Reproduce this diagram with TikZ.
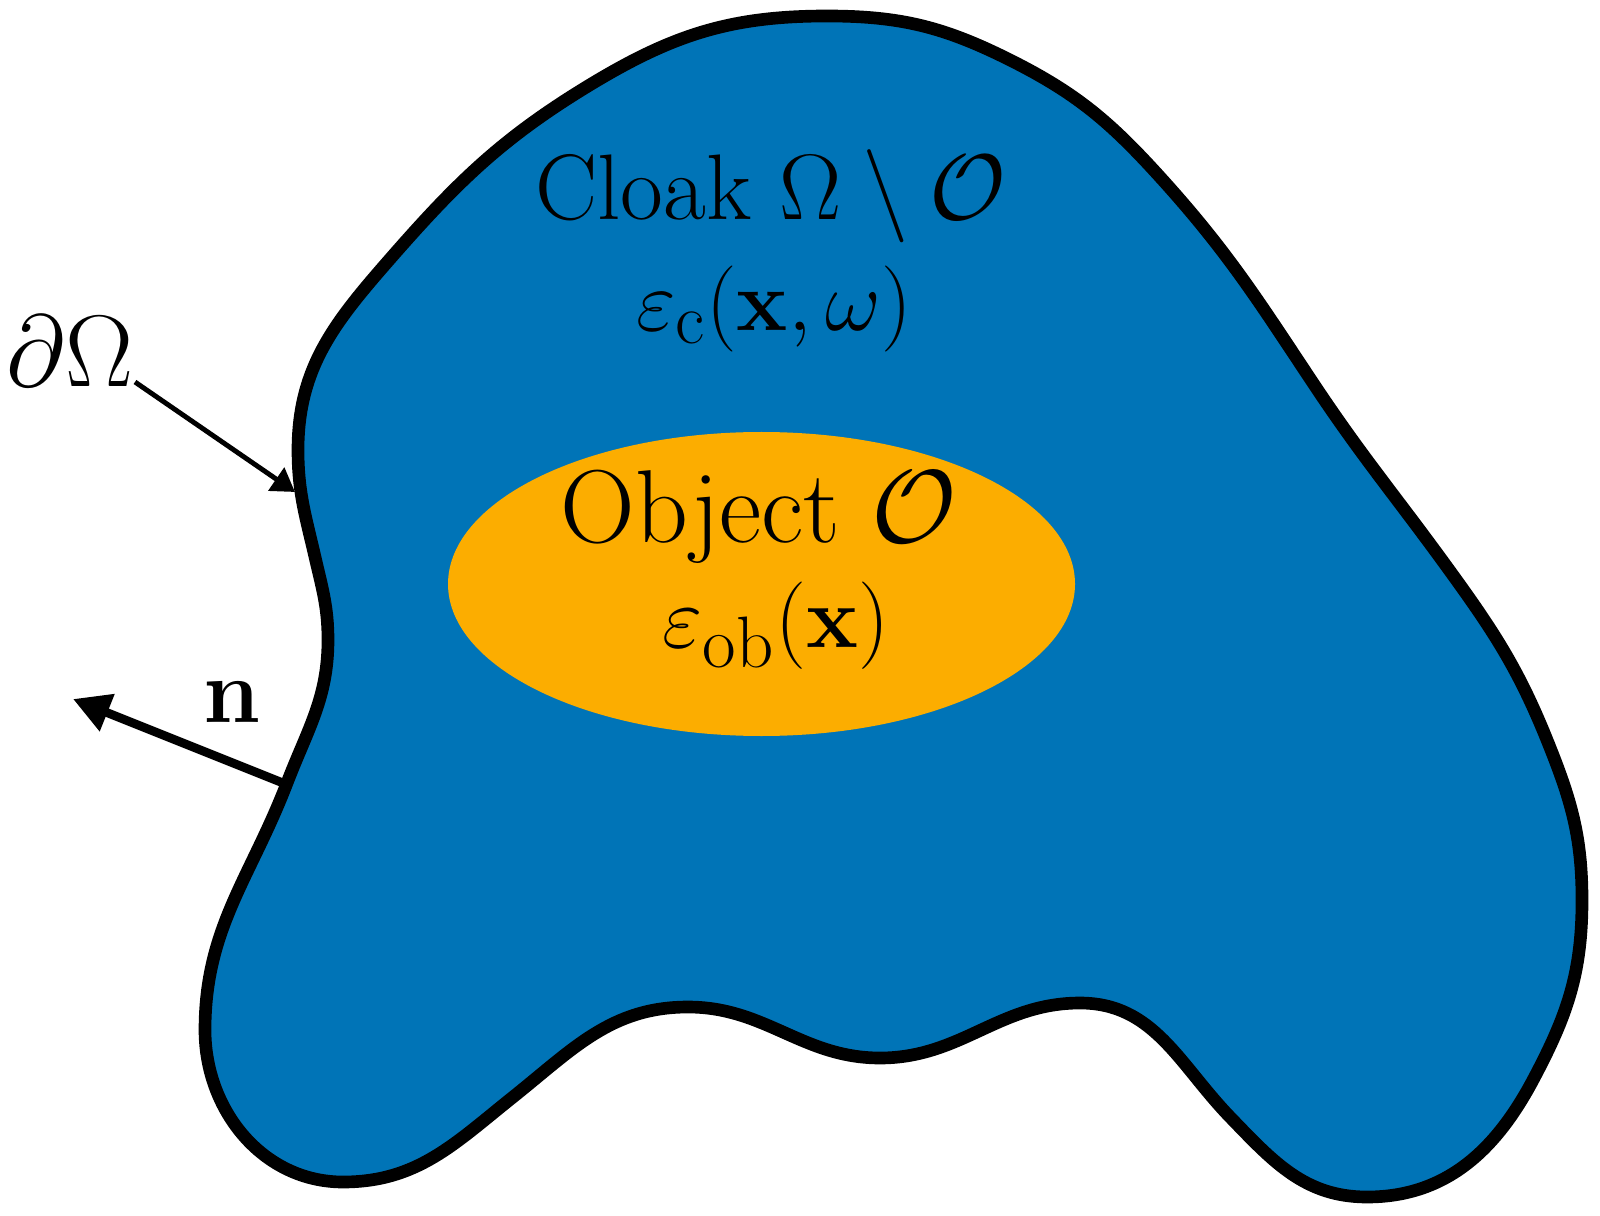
\documentclass[tikz,border=0pt]{standalone}
\usepackage{amsmath}
\usetikzlibrary{arrows.meta,shapes.geometric}
\definecolor{cloakblue}{HTML}{0074B7}
\definecolor{objorange}{HTML}{FCAD00}
\tikzset{
  region/.style={fill=cloakblue, draw=black, line width=3.6pt, line join=round},
  objshape/.style={ellipse, fill=objorange, draw=none, inner sep=0pt,
    minimum width=6.27cm, minimum height=3.04cm},
  lab/.style={anchor=base, inner sep=0pt, text=black, font=\Huge},
  thinarrow/.style={line width=1.4pt, -{Triangle[length=6.5pt, width=7.8pt]}},
  thickarrow/.style={line width=2.5pt, -{Triangle[length=10.5pt, width=10.8pt]}}
}
\begin{document}
\begin{tikzpicture}[x=1cm,y=1cm]
\useasboundingbox (0,0) rectangle (16,-12.16);
% outer domain
\draw[region] (2.98,-4.50)
  to[out=90, in=229] (3.83,-2.67)
  to[out=49, in=211] (5.93,-0.83)
  to[out=31, in=180] (8.27,-0.16)
  to[out=0, in=153.4] (10.10,-0.60)
  to[out=-26.6, in=132.2] (11.60,-1.77)
  to[out=-47.8, in=123.6] (13.13,-3.83)
  to[out=-56.4, in=126] (14.47,-5.67)
  to[out=-54, in=112] (15.47,-7.40)
  to[out=-68, in=90] (15.82,-9.00)
  to[out=-90, in=62] (15.33,-10.80)
  to[out=-118, in=0] (13.67,-11.97)
  to[out=180, in=-46] (12.30,-11.17)
  to[out=134, in=0] (10.80,-10.03)
  to[out=180, in=0] (8.80,-10.58)
  to[out=180, in=0] (6.88,-10.07)
  to[out=180, in=38.6] (5.13,-10.97)
  to[out=-141.4, in=0] (3.43,-11.82)
  to[out=180, in=-90] (2.05,-10.30)
  to[out=90, in=-111] (2.87,-7.83)
  to[out=69, in=-90] (3.28,-6.40)
  to[out=90, in=-77] (3.15,-5.57)
  to[out=103, in=-90] (2.98,-4.50) -- cycle;
% object
\node[objshape] (obj) at (7.615,-5.84) {};
% labels
\node[lab, scale=1.065] (cloak) at (7.71,-2.20) {Cloak $\Omega\setminus\mathcal{O}$};
\node[lab, scale=0.985] (epsc) at (7.74,-3.31) {$\varepsilon_{\mathrm{c}}(\mathbf{x},\omega)$};
\node[lab, scale=1.185] (object) at (7.59,-5.43) {Object\hspace{0.3em}$\mathcal{O}$};
\node[lab] (epsob) at (7.76,-6.47) {$\varepsilon_{\mathrm{ob}}(\mathbf{x})$};
\node[lab, scale=1.165] (dOmega) at (0.70,-3.87) {$\partial\Omega$};
\node[lab, scale=1.045] (nlab) at (2.32,-7.22) {$\mathbf{n}$};
% arrows
\coordinate (dOtail) at (1.35,-3.82);
\coordinate (bdA) at (2.95,-4.92);
\coordinate (bdB) at (2.83,-7.83);
\coordinate (ntip) at (0.73,-6.99);
\draw[thinarrow] (dOtail) -- (bdA);
\draw[thickarrow] (bdB) -- (ntip);
\end{tikzpicture}
\end{document}
